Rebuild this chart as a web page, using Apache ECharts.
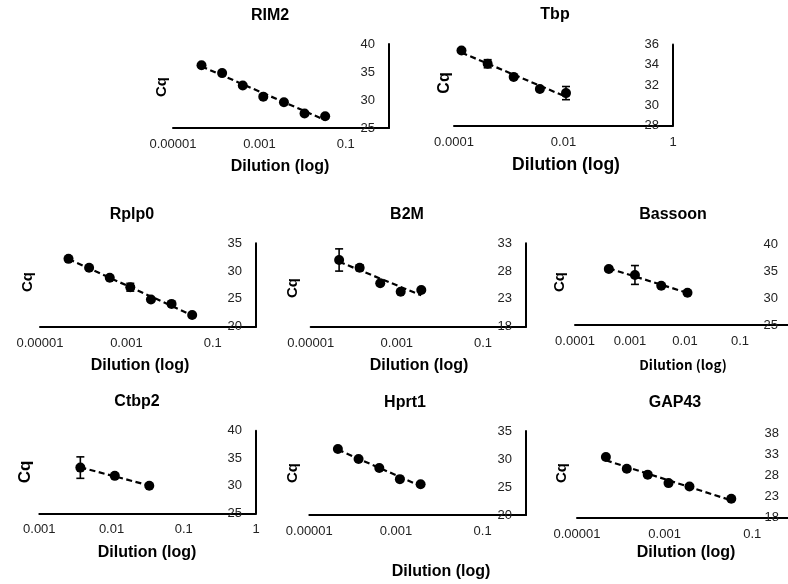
<!DOCTYPE html>
<html>
<head>
<meta charset="utf-8">
<script src="https://cdn.jsdelivr.net/npm/echarts@6/dist/echarts.min.js"></script>
<style>
  html, body { margin: 0; padding: 0; background: #fff; }
  #chart { width: 788px; height: 584px; }
</style>
</head>
<body>
<div id="chart"></div>
<script>
// panel names
const genes = ["RIM2", "Tbp", "Rplp0", "B2M", "Bassoon", "Ctbp2", "Hprt1", "GAP43"];

// dilutions (1:3 series) and Cq means / error per gene
const rim2X = [0.0000457, 0.000137, 0.000412, 0.00123, 0.0037, 0.0111, 0.0333];
const rim2Cq = [36.2, 34.8, 32.6, 30.6, 29.6, 27.6, 27.1];
const rim2Err = [0, 0, 0, 0, 0, 0, 0];

const tbpX = [0.000137, 0.000412, 0.00123, 0.0037, 0.0111];
const tbpCq = [35.4, 34.1, 32.8, 31.6, 31.2];
const tbpErr = [0, 0.4, 0, 0, 0.65];

const rplp0X = [0.0000457, 0.000137, 0.000412, 0.00123, 0.0037, 0.0111, 0.0333];
const rplp0Cq = [32.2, 30.6, 28.8, 27.1, 24.9, 24.1, 22.1];
const rplp0Err = [0, 0, 0, 0.7, 0, 0, 0];

const b2mX = [0.0000457, 0.000137, 0.000412, 0.00123, 0.0037];
const b2mCq = [30.0, 28.6, 25.8, 24.3, 24.6];
const b2mErr = [2.0, 0.5, 0, 0, 0];

const bassoonX = [0.000412, 0.00123, 0.0037, 0.0111];
const bassoonCq = [35.4, 34.3, 32.3, 31.0];
const bassoonErr = [0.4, 1.75, 0, 0];

const ctbp2X = [0.0037, 0.0111, 0.0333];
const ctbp2Cq = [33.3, 31.8, 30.0];
const ctbp2Err = [1.95, 0, 0];

const hprt1X = [0.0000457, 0.000137, 0.000412, 0.00123, 0.0037];
const hprt1Cq = [31.8, 30.0, 28.4, 26.4, 25.5];
const hprt1Err = [0, 0, 0, 0, 0];

const gap43X = [0.0000457, 0.000137, 0.000412, 0.00123, 0.0037, 0.0333];
const gap43Cq = [32.4, 29.6, 28.2, 26.2, 25.4, 22.5];
const gap43Err = [0, 0, 0, 0, 0, 0];

// axis ranges: x (log) min / label step in decades, y min/max/step
const xMins = [1e-5, 1e-4, 1e-5, 1e-5, 1e-4, 1e-3, 1e-5, 1e-5];
const xLabelStep = [2, 2, 2, 2, 1, 1, 2, 2];
const yMins = [25, 28, 20, 18, 25, 25, 20, 18];
const yMaxs = [40, 36, 35, 33, 40, 40, 35, 38];
const ySteps = [5, 2, 5, 5, 5, 5, 5, 5];

const xs = [rim2X, tbpX, rplp0X, b2mX, bassoonX, ctbp2X, hprt1X, gap43X];
const cqs = [rim2Cq, tbpCq, rplp0Cq, b2mCq, bassoonCq, ctbp2Cq, hprt1Cq, gap43Cq];
const errs = [rim2Err, tbpErr, rplp0Err, b2mErr, bassoonErr, ctbp2Err, hprt1Err, gap43Err];

// layout: plot box [left, top, width, height], text centres
const boxes = [
  [173, 44, 216, 84], [454, 44.5, 219, 81],
  [40, 243.3, 216, 83.4], [310.7, 243.3, 215.3, 83.4], [575, 244.3, 220, 80.7],
  [39.3, 430.7, 216.7, 82.6], [309.3, 431, 216.7, 84], [577, 433.3, 219, 84.4]
];
const yLabelGap = [14, 14, 14, 14, 17, 14, 14, 17];
const titlePos = [[270, 16], [555, 15], [132, 215], [407, 215], [673, 215], [137, 402], [405, 403], [675, 403]];
const xNamePos = [[280, 167], [566, 165], [140, 366], [419, 366], [683, 365], [147, 553], [441, 572], [686, 553]];
const yNamePos = [[162, 87], [445, 83], [28, 282], [293, 288], [560, 282], [25, 472], [293, 473], [562, 473]];
const xNameFont = ["bold 16px Liberation Sans", "bold 17.5px Liberation Sans", "bold 16px Liberation Sans",
  "bold 16px Liberation Sans", "bold 13.5px Noto Sans CJK JP", "bold 16px Liberation Sans",
  "bold 16px Liberation Sans", "bold 16px Liberation Sans"];
const yNameSize = [15, 16, 15, 15, 15, 17, 15, 15];

const FONT = "Liberation Sans, Arial, sans-serif";

function fmtDecade(v) {
  const e = Math.round(Math.log10(v));
  return e < 0 ? (Math.pow(10, e)).toFixed(-e) : String(Math.pow(10, e));
}

// Excel-style log trendline: least squares of Cq on log10(dilution)
function trend(x, y) {
  const lx = x.map(Math.log10);
  const n = x.length;
  const mx = lx.reduce((a, b) => a + b, 0) / n;
  const my = y.reduce((a, b) => a + b, 0) / n;
  let sxy = 0, sxx = 0;
  lx.forEach((v, i) => { sxy += (v - mx) * (y[i] - my); sxx += (v - mx) * (v - mx); });
  const b = sxy / sxx;
  const a = my - b * mx;
  return [[x[0], a + b * lx[0]], [x[n - 1], a + b * lx[n - 1]]];
}

const grid = [], xAxis = [], yAxis = [], series = [], graphic = [];

genes.forEach((name, i) => {
  const [l, t, w, h] = boxes[i];
  grid.push({ left: l, top: t, width: w, height: h, containLabel: false, outerBoundsMode: "none" });
  const minExp = Math.round(Math.log10(xMins[i]));
  xAxis.push({
    type: "log", logBase: 10, gridIndex: i, min: xMins[i], max: 1,
    axisLine: { onZero: false, lineStyle: { color: "#000", width: 2 } },
    axisTick: { show: false },
    splitLine: { show: false },
    minorTick: { show: false },
    axisLabel: {
      margin: 10, color: "#222", fontSize: 13, fontFamily: FONT,
      showMinLabel: true, showMaxLabel: true,
      formatter: (v) => {
        const e = Math.round(Math.log10(v));
        return (e - minExp) % xLabelStep[i] === 0 ? fmtDecade(v) : "";
      }
    }
  });
  yAxis.push({
    type: "value", gridIndex: i, position: "right",
    min: yMins[i], max: yMaxs[i], interval: ySteps[i],
    axisLine: { show: true, onZero: false, lineStyle: { color: "#000", width: 2 } },
    axisTick: { show: false },
    splitLine: { show: false },
    axisLabel: { inside: true, margin: yLabelGap[i], color: "#222", fontSize: 13, fontFamily: FONT }
  });

  const pts = xs[i].map((x, k) => [x, cqs[i][k]]);
  series.push({
    type: "line", xAxisIndex: i, yAxisIndex: i, data: trend(xs[i], cqs[i]),
    symbol: "none", silent: true, z: 2,
    lineStyle: { color: "#000", width: 2.2, type: [6, 3.5] }
  });
  series.push({
    type: "scatter", xAxisIndex: i, yAxisIndex: i, data: pts,
    symbol: "circle", symbolSize: 10, itemStyle: { color: "#000", opacity: 1 }, z: 3
  });
  const eb = xs[i].map((x, k) => [x, cqs[i][k], errs[i][k]]).filter(d => d[2] > 0);
  series.push({
    type: "custom", xAxisIndex: i, yAxisIndex: i, data: eb, z: 4,
    encode: { x: 0, y: 1 },
    renderItem: (params, api) => {
      const x = api.value(0), y = api.value(1), e = api.value(2);
      const top = api.coord([x, y + e]);
      const bot = api.coord([x, y - e]);
      const c = 4;
      const st = { stroke: "#000", lineWidth: 1.6 };
      return {
        type: "group",
        children: [
          { type: "line", shape: { x1: top[0], y1: top[1], x2: bot[0], y2: bot[1] }, style: st },
          { type: "line", shape: { x1: top[0] - c, y1: top[1], x2: top[0] + c, y2: top[1] }, style: st },
          { type: "line", shape: { x1: bot[0] - c, y1: bot[1], x2: bot[0] + c, y2: bot[1] }, style: st }
        ]
      };
    }
  });

  graphic.push({
    type: "text", x: titlePos[i][0], y: titlePos[i][1],
    style: { text: name, font: "bold 16px " + FONT, fill: "#000",
      align: "center", verticalAlign: "middle", textAlign: "center", textVerticalAlign: "middle" }
  });
  graphic.push({
    type: "text", x: xNamePos[i][0], y: xNamePos[i][1],
    style: { text: "Dilution (log)", font: xNameFont[i], fill: "#000",
      align: "center", verticalAlign: "middle", textAlign: "center", textVerticalAlign: "middle" }
  });
  graphic.push({
    type: "text", x: yNamePos[i][0], y: yNamePos[i][1], rotation: Math.PI / 2,
    style: { text: "Cq", font: "bold " + yNameSize[i] + "px " + FONT, fill: "#000",
      align: "center", verticalAlign: "middle", textAlign: "center", textVerticalAlign: "middle" }
  });
});

const chart = echarts.init(document.getElementById("chart"), null, { renderer: "canvas" });
chart.setOption({
  animation: false,
  backgroundColor: "#fff",
  grid, xAxis, yAxis, series, graphic
});
</script>
</body>
</html>
